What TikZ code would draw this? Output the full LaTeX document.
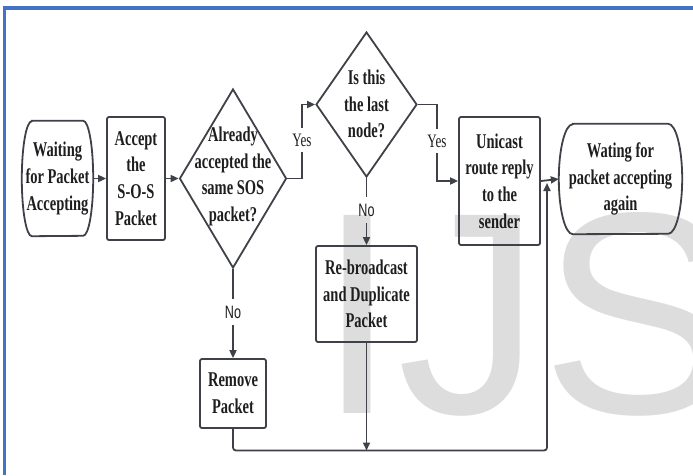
\documentclass[tikz,border=0pt]{standalone}
\usepackage{fontspec}
\setmainfont{Liberation Serif}
\newfontfamily\boxfont[FakeStretch=0.69]{Liberation Serif}
\newfontfamily\narrowsans[FakeStretch=0.7]{Liberation Sans}
\newfontfamily\markfont{Liberation Sans}
\usetikzlibrary{arrows.meta,shapes.geometric,calc}

\definecolor{lineclr}{RGB}{62,66,72}
\definecolor{txtclr}{RGB}{30,30,30}
\definecolor{frameblue}{RGB}{68,114,196}
\definecolor{markgray}{RGB}{221,221,221}

\tikzset{
  edge/.style={draw=lineclr, line width=1.8pt},
  arr/.style={edge, -{Triangle[length=8pt,width=7pt]}},
  outline/.style={draw=lineclr, line width=1.8pt},
  txt/.style={align=center, inner sep=0pt, text=txtclr,
    font=\boxfont\bfseries\fontsize{21}{26.7}\selectfont},
  proc/.style={txt, outline, rectangle, rounded corners=2pt},
  dec/.style={outline, diamond, inner sep=0pt},
  yeslbl/.style={inner sep=0pt, outer sep=0pt, inner ysep=6pt, text=txtclr,
    font=\boxfont\fontsize{19}{20}\selectfont},
  nolbl/.style={inner sep=0pt, outer sep=0pt, inner ysep=7pt, text=txtclr,
    font=\narrowsans\fontsize{18}{20}\selectfont},
}

% terminator outline: flat top and bottom, elliptic left and right ends
\newcommand\termoutline[3]{%
  \draw[outline] ($(#1.north west)+(#2,0)$) -- ($(#1.north east)+(-#2,0)$)
    arc[start angle=90, end angle=-90, x radius=#2pt, y radius=#3pt]
    -- ($(#1.south west)+(#2,0)$)
    arc[start angle=270, end angle=90, x radius=#2pt, y radius=#3pt] -- cycle;}

\begin{document}
\begin{tikzpicture}[x=1pt, y=-1pt]
\useasboundingbox (0,0) rectangle (693,475);

% watermark
\node[anchor=base west, inner sep=0pt, text=markgray,
      font=\markfont\fontsize{288}{288}\selectfont] (mark) at (317,413) {IJS};

% frame
\draw[frameblue, line width=3.3pt] (4.4,475) -- (4.4,8) -- (693,8);

% terminators
\node[txt, minimum width=71pt, minimum height=115pt] (start) at (57.5,178.5)
  {Waiting\\for Packet\\Accepting};
\termoutline{start}{10}{57.5}
\node[txt, minimum width=123pt, minimum height=110pt] (end) at (620.5,179)
  {Wating for\\packet accepting\\again};
\termoutline{end}{14}{55}

% process boxes
\node[proc, minimum width=58pt, minimum height=123pt] (acc) at (136,178.5)
  {Accept\\the\\S-O-S\\Packet};
\node[proc, minimum width=81pt, minimum height=128pt] (uni) at (499.5,181)
  {Unicast\\route reply\\to the\\sender};
\node[proc, minimum width=101pt, minimum height=96pt] (reb) at (366.5,294)
  {Re-broadcast\\and Duplicate\\Packet};
\node[proc, minimum width=66pt, minimum height=69pt] (rem) at (233,393.5)
  {Remove\\Packet};

% decisions
\node[dec, minimum width=107pt, minimum height=179pt] (d1) at (233,178.5) {};
\node[txt] (d1t) at (233,176.5) {Already\\accepted the\\same SOS\\packet?};
\node[dec, minimum width=101pt, minimum height=145pt] (d2) at (366.5,104.5) {};
\node[txt] (d2t) at (366.5,104) {Is this\\the last\\node?};

% branch labels
\node[yeslbl] (y1) at (302,140) {Yes};
\node[yeslbl] (y2) at (437,141) {Yes};
\node[nolbl] (n1) at (233,312) {No};
\node[nolbl] (n2) at (366.5,210) {No};

% connectors
\draw[arr] (start.east) -- (acc.west);
\draw[arr] (acc.east) -- (d1.west);
\draw[edge] (d1.east) -| (y1.south);
\draw[arr] (y1.north) |- (d2.west);
\draw[edge] (d2.east) -| (y2.north);
\draw[arr] (y2.south) |- (uni.west);
\draw[arr] (uni.east) -- (end.west);
\draw[edge] (d2.south) -- (n2.north);
\draw[arr] (n2.south) -- (reb.north);
\draw[edge] (d1.south) -- (n1.north);
\draw[arr] (n1.south) -- (rem.north);

% return path to the waiting state
\coordinate (corner) at (547,450.5);
\draw[arr, rounded corners=3pt] (rem.south) |- (corner)
  -- ($(corner |- uni.east)+(0,2)$);
\draw[arr] (reb.south) -- (reb.south |- corner);
\end{tikzpicture}
\end{document}
